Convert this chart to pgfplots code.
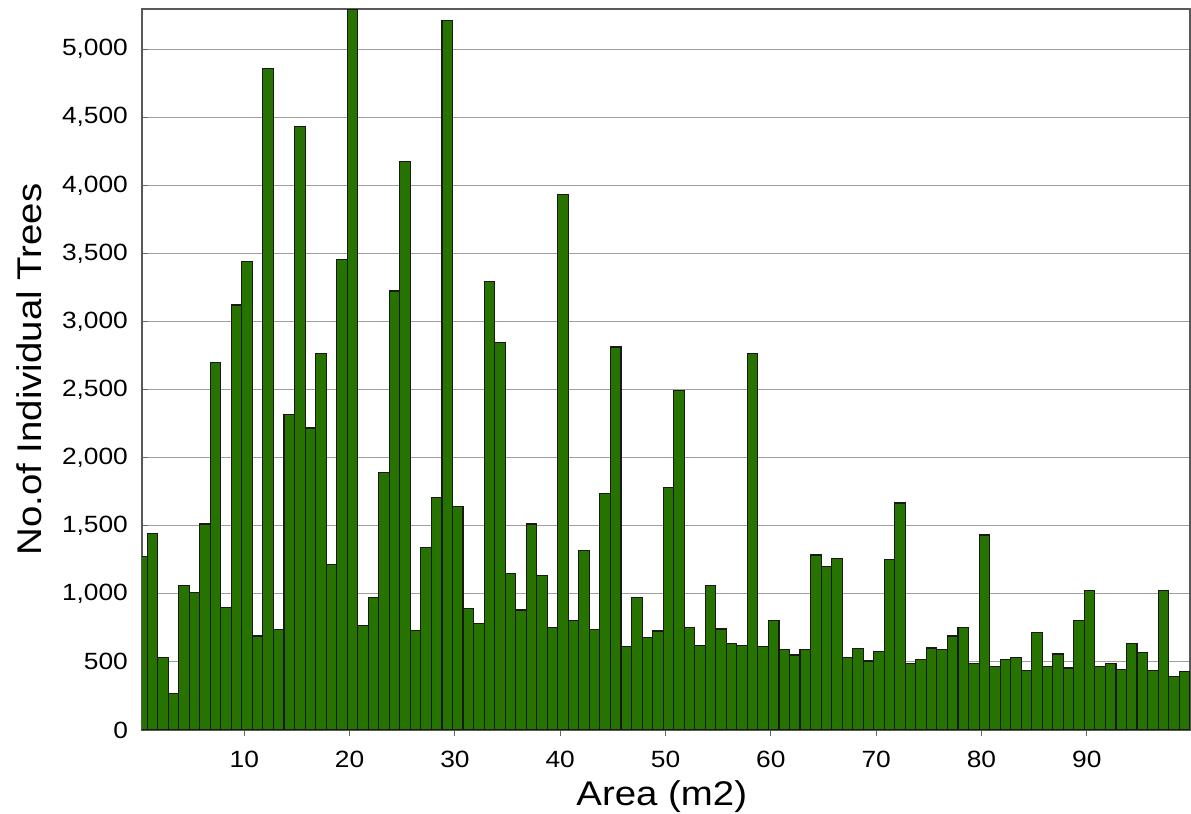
\documentclass[border=0pt]{standalone}
\usepackage{fontspec}
\setmainfont{Liberation Sans}[FakeStretch=1.12]
\usepackage{pgfplots}
\pgfplotsset{compat=1.18}
\usepackage{pgfplotstable}
\definecolor{bargreen}{RGB}{38,115,0}
\definecolor{gridgray}{RGB}{160,160,160}

\pgfplotstableread{
k v
0 1271
1 1445
2 534
3 269
4 1058
5 1009
6 1513
7 2701
8 901
9 3121
10 3442
11 690
12 4860
13 735
14 2316
15 4431
16 2218
17 2762
18 1217
19 3452
20 5288
21 769
22 970
23 1890
24 3224
25 4177
26 729
27 1339
28 1706
29 5210
30 1643
31 891
32 779
33 3293
34 2843
35 1146
36 881
37 1513
38 1136
39 752
40 3932
41 806
42 1317
43 735
44 1738
45 2813
46 612
47 970
48 681
49 727
50 1783
51 2492
52 752
53 622
54 1058
55 742
56 637
57 622
58 2762
59 612
60 806
61 588
62 551
63 588
64 1285
65 1200
66 1258
67 534
68 597
69 507
70 578
71 1249
72 1667
73 490
74 516
75 602
76 588
77 690
78 752
79 490
80 1432
81 463
82 516
83 534
84 436
85 717
86 463
87 558
88 455
89 806
90 1023
91 463
92 490
93 446
94 637
95 568
96 436
97 1023
98 394
99 428
}\datatable

\begin{document}
\begin{tikzpicture}
\begin{axis}[
  scale only axis, width=524bp, height=360.5bp,
  xmin=0.285, xmax=99.8, ymin=0, ymax=5295,
  xtick={10,20,...,90},
  ytick={0,500,...,5000},
  xtick pos=bottom, ytick pos=left,
  scaled y ticks=false,
  /pgf/number format/assume math mode=true,
  /pgf/number format/1000 sep={,},
  ymajorgrids, grid style={gridgray, line width=0.5bp},
  axis line style={draw=black!65, line width=0.7bp},
  xtick align=outside, ytick align=inside,
  major tick length=3bp,
  tick style={black!60, line width=0.5bp},
  ticklabel style={font=\fontsize{11.8}{14}\selectfont},
  xticklabel style={anchor=north, inner sep=0pt, yshift=-7.5bp},
  yticklabel style={anchor=east, inner sep=0pt, xshift=-6.85bp},
  xlabel={Area (m2)}, ylabel={No.of Individual Trees},
  label style={font=\fontsize{17.2}{20}\selectfont},
  xlabel style={at={(axis description cs:0.496,-0.1054)}, anchor=base},
  ylabel style={at={(axis description cs:-0.1078,0.5)}, anchor=center},
  ybar, bar width=1, bar shift=0pt,
]
\addplot[fill=bargreen, draw=black!90, line width=0.55bp] table[x expr=\thisrow{k}+0.27, y=v]{\datatable};
\end{axis}
\pgfresetboundingbox
\path[use as bounding box] ([shift={(-71bp,-42bp)}]current axis.south west) rectangle ([shift={(0.5bp,4.5bp)}]current axis.north east);
\end{tikzpicture}
\end{document}
